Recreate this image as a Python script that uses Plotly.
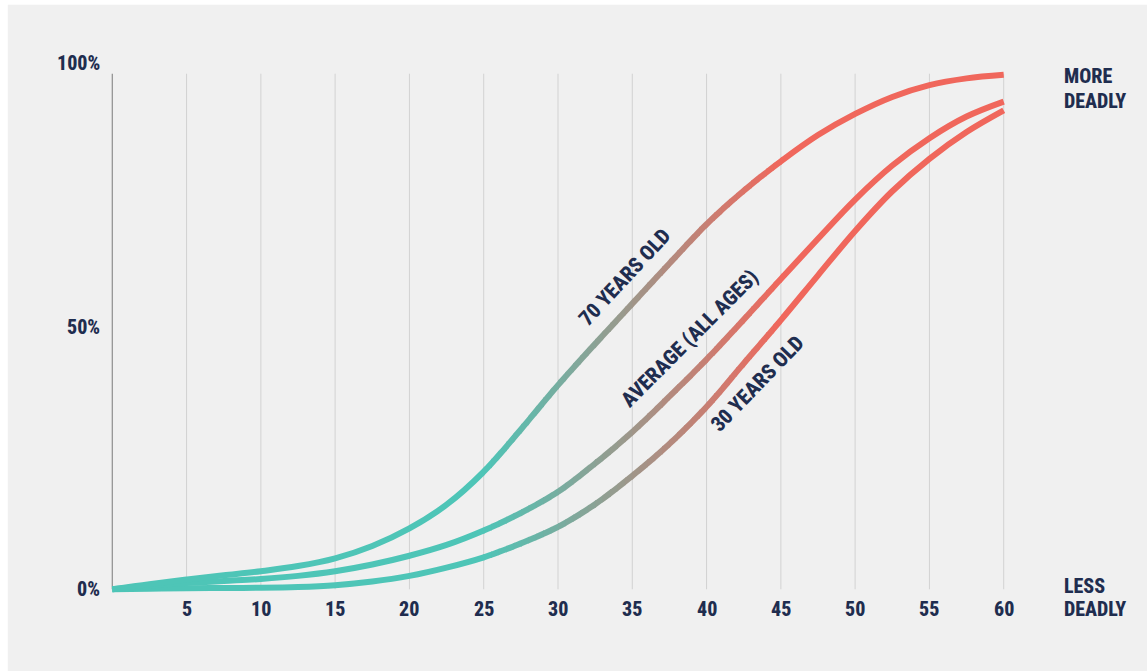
import numpy as np
import plotly.graph_objects as go

# Days since infection (x) and share of cases that turn fatal (%)
days = [0, 2.5, 5, 7.5, 10, 12.5, 15, 17.5, 20, 22.5, 25, 27.5, 30,
        32.5, 35, 37.5, 40, 42.5, 45, 47.5, 50, 52.5, 55, 57.5, 60]

age_70 = [0, 1.0, 1.9, 2.7, 3.5, 4.5, 6.0, 8.4, 11.8, 16.4, 22.8, 31.0, 39.6,
          47.6, 55.4, 63.2, 70.8, 77.3, 83.0, 88.1, 92.2, 95.5, 97.8, 99.1, 99.8]
average = [0, 0.7, 1.2, 1.6, 2.0, 2.6, 3.5, 4.8, 6.5, 8.6, 11.4, 14.8, 18.9,
           24.4, 30.5, 37.4, 44.6, 52.3, 60.2, 68.0, 75.6, 82.2, 87.5, 91.7, 94.6]
age_30 = [0, 0.1, 0.2, 0.25, 0.3, 0.45, 0.8, 1.5, 2.6, 4.2, 6.2, 8.9, 12.1,
          16.5, 22.0, 28.2, 35.4, 43.8, 52.2, 60.9, 69.5, 77.2, 83.5, 88.7, 92.9]

x_ticks = [5, 10, 15, 20, 25, 30, 35, 40, 45, 50, 55, 60]
y_ticks = [0, 50, 100]
y_tick_text = ["0%", "50%", "100%"]

curve_labels = ["70 YEARS OLD", "AVERAGE (ALL AGES)", "30 YEARS OLD"]
label_pos = [(34.5, 60.6, -47), (38.9, 48.7, -45), (43.4, 39.8, -46)]

# Styling
W, H = 1147, 671
BG = "#f0f0f0"
NAVY = "#1f2d4f"
TEAL = np.array([78, 197, 183])
RED = np.array([240, 103, 92])
FONT = "Roboto Condensed, Open Sans, sans-serif"
WEIGHT = 800

X_RANGE = [-1.5, 61.5]
Y_RANGE = [-1.5, 101.5]
ML, MR, MT, MB = 90.2, 121.2, 66.3, 74.3
PW = W - ML - MR
PH = H - MT - MB


def mix(t):
    c = TEAL + (RED - TEAL) * t
    return "rgb({},{},{})".format(*[int(round(v)) for v in c])


def px_to_paper_x(px):
    return (px - ML) / PW


def px_to_paper_y(py):
    return (H - MB - py) / PH


fig = go.Figure()
# anchor trace for the main axes (used by gridlines and labels)
fig.add_trace(go.Scatter(x=[0], y=[0], mode="markers", marker=dict(opacity=0),
                         hoverinfo="skip", showlegend=False))

# Colour bands: each band is its own x axis covering a slice of the width,
# so the whole smooth curve is clipped to that slice and tinted there.
edges = [X_RANGE[0], 25.0] + list(np.arange(25.5, 45.0, 0.5)) + [45.0, X_RANGE[1]]
edges = sorted(set(round(float(e), 3) for e in edges))
span = X_RANGE[1] - X_RANGE[0]
overlap = 0.06
band_axes = {}
for k in range(len(edges) - 1):
    a = edges[k]
    b = min(edges[k + 1] + overlap, X_RANGE[1])
    mid = (edges[k] + edges[k + 1]) / 2
    t = min(max((mid - 25.0) / 20.0, 0.0), 1.0)
    name = "x{}".format(k + 2)
    band_axes["xaxis{}".format(k + 2)] = dict(
        domain=[(a - X_RANGE[0]) / span, (b - X_RANGE[0]) / span], range=[a, b],
        anchor="y", visible=False, fixedrange=True)
    for series in (age_30, average, age_70):
        fig.add_trace(go.Scatter(x=days, y=series, mode="lines", xaxis=name, yaxis="y",
                                 line=dict(color=mix(t), width=6, shape="spline", smoothing=1),
                                 hoverinfo="skip", showlegend=False))

shapes = [
    # grey panel leaving a thin white strip along the top and left edges
    dict(type="rect", xref="paper", yref="paper",
         x0=px_to_paper_x(8), x1=px_to_paper_x(W + 5),
         y0=px_to_paper_y(H + 5), y1=px_to_paper_y(5),
         fillcolor=BG, line=dict(width=0), layer="below"),
]
for xv in x_ticks:
    shapes.append(dict(type="line", xref="x", yref="y", x0=xv, x1=xv, y0=0, y1=100,
                       line=dict(color="#d2d2d2", width=1), layer="below"))
shapes.append(dict(type="line", xref="x", yref="y", x0=0, x1=0, y0=0, y1=100,
                   line=dict(color="#8c8c8c", width=1.2), layer="below"))

tick_font = dict(family=FONT, size=20, color=NAVY, weight=WEIGHT)
annotations = []
for xv in x_ticks:
    annotations.append(dict(x=xv, y=0, xref="x", yref="y", text=str(xv),
                            showarrow=False, yshift=-20, xanchor="center", yanchor="middle",
                            font=tick_font))
y_shifts = [0, 5, 11]
for yv, txt, ys in zip(y_ticks, y_tick_text, y_shifts):
    annotations.append(dict(x=0, y=yv, xref="x", yref="y", text=txt,
                            showarrow=False, xshift=-10, yshift=ys,
                            xanchor="right", yanchor="middle", font=tick_font))

side_lines = [("MORE", 76), ("DEADLY", 101), ("LESS", 586), ("DEADLY", 609)]
for txt, py in side_lines:
    annotations.append(dict(x=px_to_paper_x(1062), y=px_to_paper_y(py),
                            xref="paper", yref="paper", text=txt, showarrow=False,
                            xanchor="left", yanchor="middle",
                            font=dict(family=FONT, size=20, color=NAVY, weight=WEIGHT)))

for txt, (lx, ly, ang) in zip(curve_labels, label_pos):
    annotations.append(dict(x=lx, y=ly, xref="x", yref="y", text=txt,
                            showarrow=False, textangle=ang,
                            xanchor="center", yanchor="middle",
                            font=dict(family=FONT, size=21, color=NAVY, weight=WEIGHT)))

fig.update_layout(
    width=W, height=H, autosize=False,
    margin=dict(l=ML, r=MR, t=MT, b=MB, pad=0),
    paper_bgcolor="white", plot_bgcolor="rgba(0,0,0,0)",
    xaxis=dict(range=X_RANGE, visible=False, fixedrange=True),
    yaxis=dict(range=Y_RANGE, visible=False, fixedrange=True),
    shapes=shapes, annotations=annotations,
    **band_axes,
)

fig.write_html("out.html")
